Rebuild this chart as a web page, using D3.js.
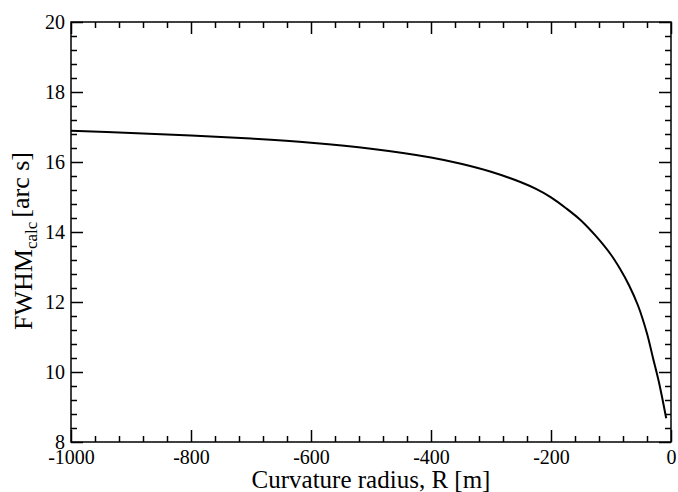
<!DOCTYPE html>
<html>
<head>
<meta charset="utf-8">
<script src="https://cdn.jsdelivr.net/npm/d3@7"></script>
<style>
  body { margin: 0; background: #fff; }
  text { font-family: "Liberation Serif", "Times New Roman", serif; fill: #000; }
</style>
</head>
<body>
<div id="chart"></div>
<script>
// Data
var radius = [-1000, -900, -800, -700, -600, -500, -400, -350, -300, -250, -225, -200, -175, -150, -125, -100, -85, -70, -55, -40, -30, -20, -8];
var fwhm   = [16.89, 16.83, 16.76, 16.67, 16.55, 16.38, 16.13, 15.95, 15.72, 15.42, 15.23, 14.99, 14.68, 14.33, 13.88, 13.35, 12.95, 12.48, 11.90, 11.10, 10.40, 9.70, 8.68];

var xMajorTicks = [-1000, -800, -600, -400, -200, 0];
var yMajorTicks = [8, 10, 12, 14, 16, 18, 20];
var xMinorStep = 40;
var yMinorStep = 0.4;

var svgWidth = 678, svgHeight = 492;
var margin = { top: 22, right: 7, bottom: 50, left: 71 };
var width = 600, height = 420;

var svg = d3.select("#chart").append("svg")
  .attr("width", svgWidth)
  .attr("height", svgHeight);

var chartGroup = svg.append("g")
  .attr("transform", `translate(${margin.left}, ${margin.top})`);

// scales
var xScale = d3.scaleLinear().domain([-1000, 0]).range([0, width]);
var yScale = d3.scaleLinear().domain([8, 20]).range([height, 0]);

var xMinor = d3.range(-1000, 0.001, xMinorStep).filter(v => xMajorTicks.indexOf(Math.round(v)) < 0);
var yMinor = d3.range(8, 20.001, yMinorStep).map(v => +v.toFixed(1)).filter(v => yMajorTicks.indexOf(v) < 0);

// plain hyphen for negatives, like the original
var fmt = d => String(d);

function styleAxis(g) {
  g.select(".domain").remove();
  g.selectAll("line").attr("stroke", "#000").attr("stroke-width", 1.5);
  g.selectAll("text").style("font-size", "20px").attr("fill", "#000");
}

// bottom axis (major + minor)
chartGroup.append("g")
  .attr("transform", `translate(0, ${height})`)
  .call(d3.axisBottom(xScale).tickValues(xMajorTicks).tickSize(-12).tickSizeOuter(0).tickPadding(8).tickFormat(fmt))
  .call(styleAxis);
chartGroup.append("g")
  .attr("transform", `translate(0, ${height})`)
  .call(d3.axisBottom(xScale).tickValues(xMinor).tickSize(-6).tickSizeOuter(0).tickFormat(""))
  .call(styleAxis);

// top axis (ticks only)
chartGroup.append("g")
  .call(d3.axisTop(xScale).tickValues(xMajorTicks).tickSize(-12).tickSizeOuter(0).tickFormat(""))
  .call(styleAxis);
chartGroup.append("g")
  .call(d3.axisTop(xScale).tickValues(xMinor).tickSize(-6).tickSizeOuter(0).tickFormat(""))
  .call(styleAxis);

// left axis
chartGroup.append("g")
  .call(d3.axisLeft(yScale).tickValues(yMajorTicks).tickSize(-12).tickSizeOuter(0).tickPadding(6).tickFormat(fmt))
  .call(styleAxis);
chartGroup.append("g")
  .call(d3.axisLeft(yScale).tickValues(yMinor).tickSize(-6).tickSizeOuter(0).tickFormat(""))
  .call(styleAxis);

// right axis (ticks only)
chartGroup.append("g")
  .attr("transform", `translate(${width}, 0)`)
  .call(d3.axisRight(yScale).tickValues(yMajorTicks).tickSize(-12).tickSizeOuter(0).tickFormat(""))
  .call(styleAxis);
chartGroup.append("g")
  .attr("transform", `translate(${width}, 0)`)
  .call(d3.axisRight(yScale).tickValues(yMinor).tickSize(-6).tickSizeOuter(0).tickFormat(""))
  .call(styleAxis);

// frame
chartGroup.append("rect")
  .attr("width", width)
  .attr("height", height)
  .attr("fill", "none")
  .attr("stroke", "#000")
  .attr("stroke-width", 1.5);

// curve
var points = radius.map((r, i) => ({ r: r, f: fwhm[i] }));
var line = d3.line()
  .x(d => xScale(d.r))
  .y(d => yScale(d.f))
  .curve(d3.curveCatmullRom.alpha(0.5));

chartGroup.append("path")
  .datum(points)
  .attr("d", line)
  .attr("fill", "none")
  .attr("stroke", "#000")
  .attr("stroke-width", 2);

// axis titles
chartGroup.append("text")
  .attr("x", width / 2)
  .attr("y", height + 46)
  .attr("text-anchor", "middle")
  .style("font-size", "25px")
  .text("Curvature radius, R [m]");

var yTitle = svg.append("text")
  .attr("transform", `translate(32, 241) rotate(-90)`)
  .attr("text-anchor", "middle")
  .style("font-size", "26px");
yTitle.append("tspan").text("FWHM");
yTitle.append("tspan").attr("dy", "0.3em").style("font-size", "17px").text("calc");
yTitle.append("tspan").attr("dy", "-0.3em").attr("dx", "4").text("[arc s]");
</script>
</body>
</html>
